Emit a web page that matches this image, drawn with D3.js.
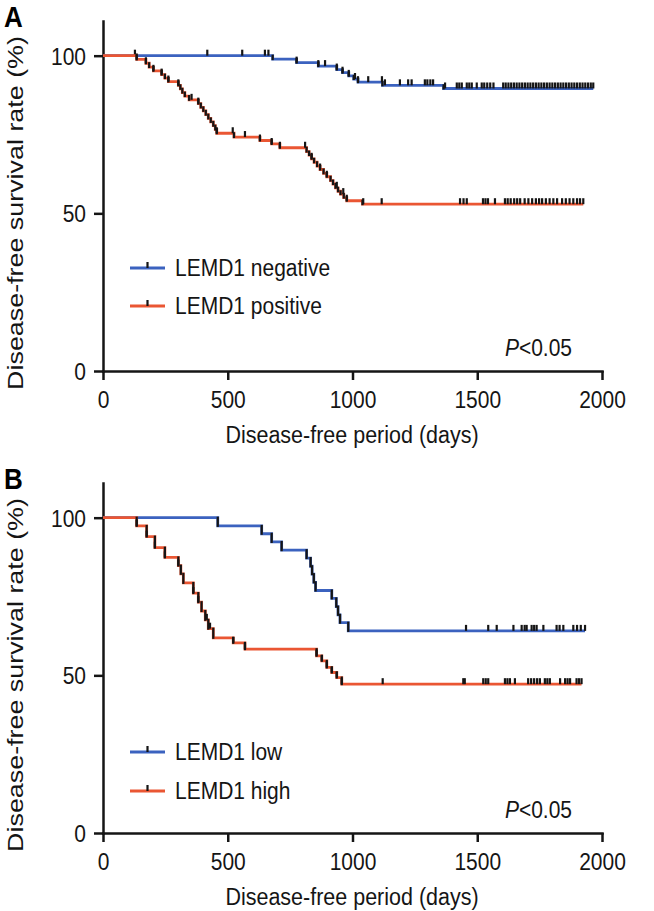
<!DOCTYPE html>
<html>
<head>
<meta charset="utf-8">
<script src="https://cdn.jsdelivr.net/npm/d3@7"></script>
<style>
body{margin:0;background:#fff;}
</style>
</head>
<body>
<svg id="chart" width="654" height="911"></svg>
<script>
// axis ticks
var xTicks = [0, 500, 1000, 1500, 2000];
var yTicks = [0, 50, 100];

// panel A, LEMD1 negative (event times in days, survival % after each event)
var negTimes = [680, 776, 863, 937, 960, 985, 1005, 1022, 1120, 1365];
var negSurv = [98.9, 97.8, 96.7, 95.6, 94.6, 93.6, 92.6, 91.6, 90.6, 89.6];
var negCensor = [128, 418, 558, 649, 663, 776, 863, 890, 937, 960, 985, 1010, 1022, 1063, 1118, 1130,
  1190, 1223, 1237, 1290, 1300, 1312, 1323, 1371, 1418, 1428, 1438, 1458, 1468, 1478, 1498, 1518,
  1528, 1540, 1552, 1565, 1604, 1614, 1625, 1636, 1647, 1658, 1669, 1680, 1691, 1702, 1713, 1724,
  1735, 1746, 1757, 1768, 1779, 1790, 1801, 1812, 1823, 1834, 1845, 1856, 1867, 1878, 1889, 1900,
  1911, 1922, 1933, 1944, 1955, 1965];

// panel A, LEMD1 positive
var posTimes = [135, 172, 185, 202, 235, 248, 262, 302, 310, 318, 328, 345, 382, 392, 402, 412, 422,
  432, 442, 450, 456, 525, 629, 676, 709, 816, 826, 836, 846, 858, 870, 884, 897, 912, 922, 932, 942,
  952, 965, 977, 1040];
var posSurv = [98.8, 97.6, 96.4, 95.2, 94.0, 92.9, 91.8, 90.6, 89.5, 88.3, 87.2, 86.0, 84.8, 83.6,
  82.5, 81.3, 80.1, 79.0, 77.8, 76.6, 75.4, 74.2, 73.1, 72.0, 70.8, 69.6, 68.5, 67.3, 66.2, 65.0, 63.9,
  62.7, 61.6, 60.4, 59.3, 58.1, 57.0, 56.1, 55.0, 54.0, 52.9];
var posCensor = [135, 172, 202, 235, 262, 302, 355, 382, 456, 520, 569, 629, 676, 709, 810, 836, 870,
  897, 937, 963, 977, 1043, 1117, 1431, 1445, 1458, 1523, 1533, 1543, 1571, 1611, 1622, 1634, 1648,
  1660, 1672, 1690, 1705, 1720, 1735, 1748, 1760, 1775, 1790, 1805, 1820, 1840, 1855, 1870, 1885,
  1900, 1912, 1925];

// panel B, LEMD1 low
var lowTimes = [460, 636, 676, 716, 816, 832, 838, 845, 852, 917, 935, 942, 950, 983];
var lowSurv = [97.4, 94.9, 92.3, 89.7, 87.2, 84.6, 82.1, 79.5, 76.9, 74.4, 71.8, 69.2, 66.7, 64.1];
var lowCensor = [1455, 1544, 1578, 1645, 1678, 1690, 1698, 1718, 1728, 1738, 1765, 1818, 1830, 1845,
  1885, 1900, 1915, 1932];

// panel B, LEMD1 high
var highTimes = [135, 175, 208, 248, 302, 312, 322, 362, 382, 395, 410, 422, 442, 522, 569, 856, 877,
  897, 917, 937, 957];
var highSurv = [97.4, 94.0, 90.5, 87.4, 84.8, 82.2, 79.3, 76.1, 73.2, 70.4, 67.6, 64.8, 61.9, 60.3,
  58.3, 56.2, 54.6, 52.5, 50.9, 49.3, 47.2];
var highCensor = [135, 175, 208, 248, 302, 362, 382, 416, 429, 522, 569, 856, 877, 897, 917, 937, 957,
  1121, 1444, 1450, 1524, 1534, 1544, 1611, 1621, 1631, 1651, 1704, 1716, 1728, 1740, 1751, 1771, 1781,
  1791, 1832, 1852, 1862, 1872, 1898, 1908, 1918];

var blue = '#3b62bf', red = '#ea5633', ink = '#151515';
var fontFam = '"Liberation Sans", Arial, Helvetica, sans-serif';
var sy = 1.15; // text looks a bit taller than wide in the original

var svg = d3.select('#chart');
var x = d3.scaleLinear().domain([0, 2000]).range([103, 602]);

var panels = [
  {letter: 'A', top: 21, bottom: 371, legendY: [268, 306],
    curves: [
      {times: negTimes, surv: negSurv, censor: negCensor, color: blue, label: 'LEMD1 negative'},
      {times: posTimes, surv: posSurv, censor: posCensor, color: red, label: 'LEMD1 positive'}
    ]},
  {letter: 'B', top: 483, bottom: 833, legendY: [752, 791],
    curves: [
      {times: lowTimes, surv: lowSurv, censor: lowCensor, color: blue, label: 'LEMD1 low'},
      {times: highTimes, surv: highSurv, censor: highCensor, color: red, label: 'LEMD1 high'}
    ]}
];

function survAt(c, t){
  var s = 100;
  c.times.forEach(function(tt, i){ if(tt <= t) s = c.surv[i]; });
  return s;
}

function stretchText(sel, tx, ty){
  return sel.attr('transform', 'translate(' + tx + ',' + ty + ') scale(1,' + sy + ')');
}

panels.forEach(function(p){
  var y = d3.scaleLinear().domain([0, 111]).range([p.bottom, p.top]);
  var g = svg.append('g');

  //axes
  var yAxis = g.append('g').attr('transform', 'translate(103,0)')
    .call(d3.axisLeft(y).tickValues(yTicks).tickSize(9).tickPadding(8).tickSizeOuter(0));
  var xAxis = g.append('g').attr('transform', 'translate(0,' + p.bottom + ')')
    .call(d3.axisBottom(x).tickValues(xTicks).tickFormat(d3.format('d')).tickSize(9).tickSizeOuter(0));

  [yAxis, xAxis].forEach(function(a){
    a.attr('font-size', 21).attr('font-family', fontFam);
    a.select('.domain').attr('stroke', ink).attr('stroke-width', 2.5).attr('stroke-linecap', 'square');
    a.selectAll('.tick line').attr('stroke', ink).attr('stroke-width', 2.5);
    a.selectAll('.tick text').attr('fill', ink);
  });
  xAxis.selectAll('.tick text').attr('y', null).attr('dy', null)
    .attr('transform', 'translate(0,37) scale(1,' + sy + ')');
  yAxis.selectAll('.tick text').attr('dy', null)
    .attr('transform', 'translate(0,8.5) scale(1,' + sy + ')');

  //axis titles
  stretchText(g.append('text'), 352, p.bottom + 72)
    .attr('text-anchor', 'middle').attr('font-size', 21.5).attr('font-family', fontFam)
    .attr('fill', ink).text('Disease-free period (days)');
  g.append('text')
    .attr('transform', 'translate(23,' + ((p.top + p.bottom) / 2 + 17) + ') rotate(-90) scale(1.25,1)')
    .attr('text-anchor', 'middle').attr('font-size', 21.5).attr('font-family', fontFam)
    .attr('fill', ink).text('Disease-free survival rate (%)');

  //panel letter
  stretchText(g.append('text'), 4, p.top + 6)
    .attr('font-size', 26).attr('font-weight', 'bold').attr('font-family', fontFam)
    .attr('fill', '#000').text(p.letter);

  //curves
  var line = d3.line()
    .x(function(d){ return x(d[0]); })
    .y(function(d){ return y(d[1]); })
    .curve(d3.curveStepAfter);

  p.curves.forEach(function(c){
    var tMax = d3.max(c.censor);
    var pts = [[0, 100]].concat(c.times.map(function(t, i){ return [t, c.surv[i]]; }));
    pts.push([tMax, c.surv[c.surv.length - 1]]);

    g.append('path').datum(pts)
      .attr('fill', 'none').attr('stroke', c.color).attr('stroke-width', 2.8)
      .attr('d', line);

    // step risers are drawn dark in the original
    g.append('g').selectAll('line').data(c.times).enter().append('line')
      .attr('x1', function(t){ return x(t); })
      .attr('x2', function(t){ return x(t); })
      .attr('y1', function(t, i){ return y(i === 0 ? 100 : c.surv[i - 1]) - 1; })
      .attr('y2', function(t, i){ return y(c.surv[i]) + 1; })
      .attr('stroke', ink).attr('stroke-width', 2.2);

    // censor ticks
    g.append('g').selectAll('line').data(c.censor).enter().append('line')
      .attr('x1', function(t){ return x(t); })
      .attr('x2', function(t){ return x(t); })
      .attr('y1', function(t){ return y(survAt(c, t)); })
      .attr('y2', function(t){ return y(survAt(c, t)) - 6; })
      .attr('stroke', ink).attr('stroke-width', 2.2);
  });

  //legend
  p.curves.forEach(function(c, i){
    var ly = p.legendY[i];
    g.append('line').attr('x1', 130).attr('x2', 165).attr('y1', ly).attr('y2', ly)
      .attr('stroke', c.color).attr('stroke-width', 2.8);
    g.append('line').attr('x1', 147.5).attr('x2', 147.5).attr('y1', ly).attr('y2', ly - 6)
      .attr('stroke', ink).attr('stroke-width', 2.2);
    stretchText(g.append('text'), 175, ly + 8)
      .attr('font-size', 21).attr('font-family', fontFam).attr('fill', ink).text(c.label);
  });

  //p value
  var pt = stretchText(g.append('text'), 572, p.bottom - 15)
    .attr('text-anchor', 'end').attr('font-size', 21).attr('font-family', fontFam).attr('fill', ink);
  pt.append('tspan').attr('font-style', 'italic').text('P');
  pt.append('tspan').text('<0.05');
});
</script>
</body>
</html>
